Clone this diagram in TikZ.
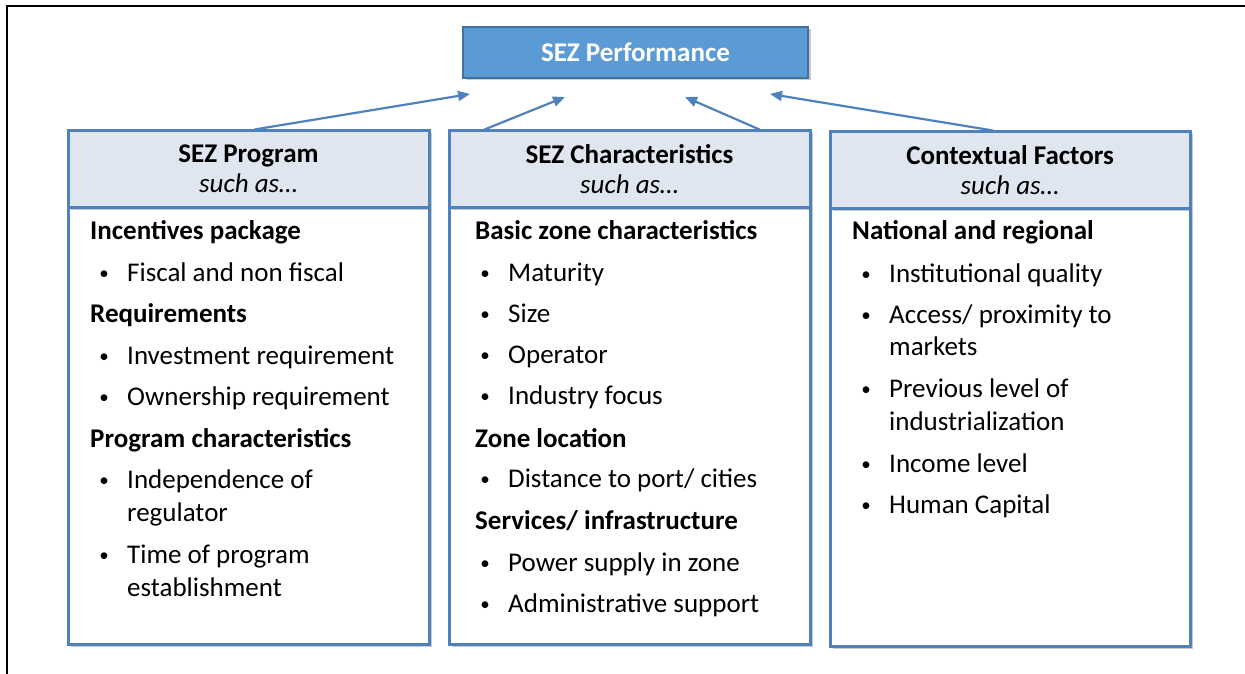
\documentclass[tikz,border=0pt]{standalone}
\usepackage{fontspec}
\setmainfont{Carlito}
\usepackage{tikz}
\usetikzlibrary{arrows.meta,positioning,shadows}
\definecolor{zoneblue}{HTML}{4F81BD}
\definecolor{perffill}{HTML}{5B9BD5}
\definecolor{perfline}{HTML}{41719C}
\definecolor{headfill}{HTML}{DFE6F0}
\newcommand{\colfont}{\fontsize{27}{30}\selectfont}

\begin{document}
\begin{tikzpicture}[x=1pt, y=-1pt,
    softshadow/.style={drop shadow={shadow xshift=2.5pt, shadow yshift=-2.5pt, opacity=.35, fill=black!60}},
    perfbox/.style={draw=perfline, line width=2pt, fill=perffill, text=white, font=\colfont\bfseries, minimum width=345pt, minimum height=51pt, softshadow},
    colhead/.style={draw=zoneblue, line width=3pt, fill=headfill, minimum width=361pt, minimum height=76pt, anchor=north west, align=center, inner sep=0pt, font=\colfont, softshadow},
    colbody/.style={draw=zoneblue, line width=3pt, fill=white, minimum width=361pt, minimum height=437pt, anchor=north west, softshadow},
    head/.style={anchor=base west, inner sep=0pt, font=\colfont\bfseries},
    item/.style={anchor=base west, inner sep=0pt, font=\colfont},
    dot/.style={anchor=base, inner sep=0pt, font=\fontsize{19}{19}\selectfont, yshift=1.5pt},
    feed/.style={draw=zoneblue, line width=2.2pt, -{Triangle[length=12pt, width=10pt]}}
]
    \useasboundingbox (0,0) rectangle (1245,674);
    % Frame
    \draw[line width=1.3pt] (1245,6) -- (7,6) -- (7,674);
    % Performance
    \node[perfbox] (perf) at (635.5,52.5) {SEZ Performance};
    % Columns
    \node[colbody] (progbody) at (66.5,205.5) {};
    \node[colhead] (proghead) at (66.5,129.5) {\textbf{SEZ Program}\\\textit{such as…}};
    \node[colbody] (charbody) at (447.5,205.5) {};
    \node[colhead] (charhead) at (447.5,129.5) {\textbf{SEZ Characteristics}\\\textit{such as…}};
    \node[colbody, minimum width=360pt, minimum height=438pt] (ctxbody) at (828.5,206.5) {};
    \node[colhead, minimum width=360pt] (ctxhead) at (828.5,130.5) {\textbf{Contextual Factors}\\\textit{such as…}};
    % SEZ Program
    \foreach \y/\t [count=\i] in {239/Incentives package, 322/Requirements, 447/Program characteristics}
        \node[head] (progh\i) at (90,\y) {\t};
    \foreach \y/\t [count=\i] in {281/Fiscal and non fiscal, 364/Investment requirement, 405/Ownership requirement, 488/Independence of, 563/Time of program} {
        \node[dot] (progd\i) at (104,\y) {\textbullet};
        \node[item] (progi\i) at (127,\y) {\t};
    }
    \node[item] (progc1) at (127,521) {regulator};
    \node[item] (progc2) at (127,596) {establishment};
    % SEZ Characteristics
    \foreach \y/\t [count=\i] in {239/Basic zone characteristics, 447/Zone location, 529/{Services/ infrastructure}}
        \node[head] (charh\i) at (475,\y) {\t};
    \foreach \y/\t [count=\i] in {281/Maturity, 322/Size, 363/Operator, 404/Industry focus, 487/{Distance to port/ cities}, 571/Power supply in zone, 612/Administrative support} {
        \node[dot] (chard\i) at (485,\y) {\textbullet};
        \node[item] (chari\i) at (508,\y) {\t};
    }
    % Contextual Factors
    \node[head] (ctxh1) at (852,239) {National and regional};
    \foreach \y/\t [count=\i] in {282/Institutional quality, 323/{Access/ proximity to}, 397/Previous level of, 472/Income level, 513/Human Capital} {
        \node[dot] (ctxd\i) at (866,\y) {\textbullet};
        \node[item] (ctxi\i) at (889,\y) {\t};
    }
    \node[item] (ctxc1) at (889,355) {markets};
    \node[item] (ctxc2) at (889,430) {industrialization};
    % Arrows
    \coordinate (tip1) at (470,94);
    \coordinate (tip2) at (565,97);
    \coordinate (tip3) at (685,97);
    \coordinate (tip4) at (770,94);
    \foreach \n/\dx/\t in {proghead/6/tip1, charhead/-145/tip2, charhead/130/tip3, ctxhead/-17/tip4}
        \draw[feed] ([xshift=\dx pt]\n.north) -- (\t);
\end{tikzpicture}
\end{document}
